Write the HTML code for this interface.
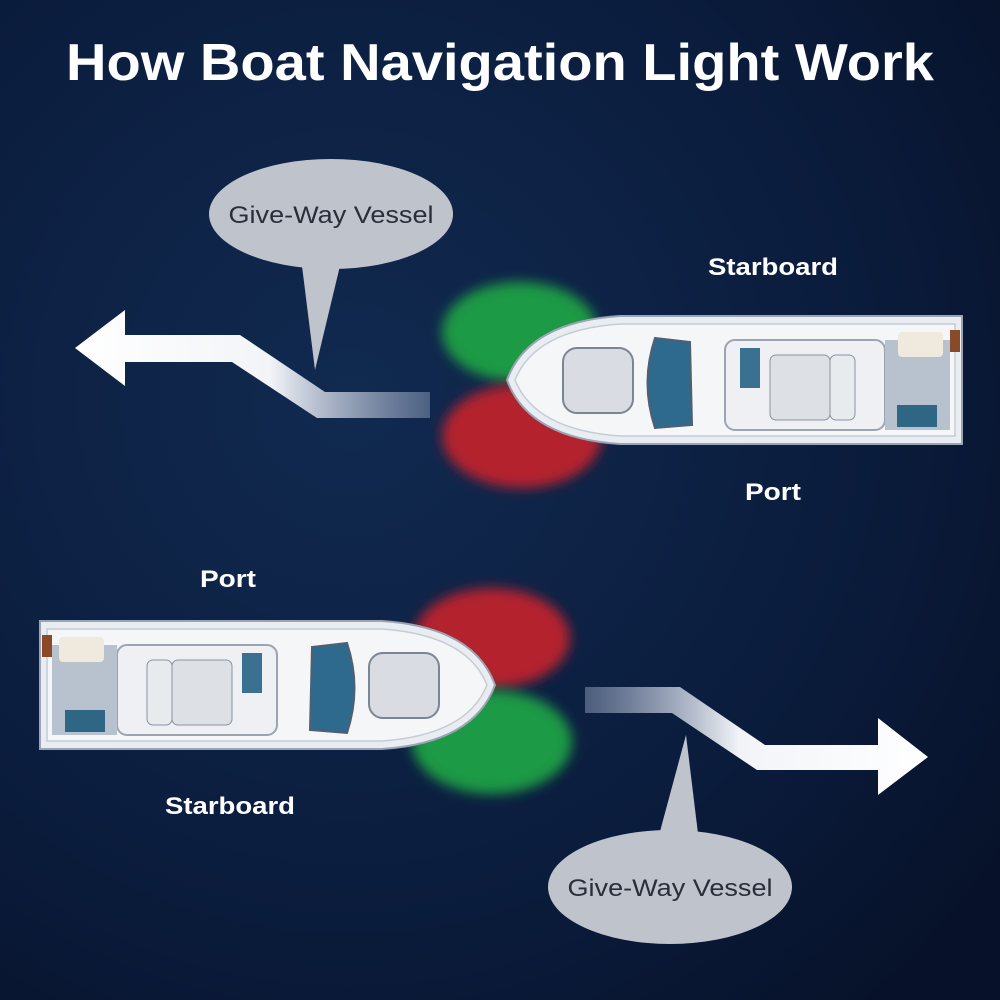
<!DOCTYPE html>
<html><head><style>
html,body{margin:0;padding:0;background:#0a1a36;}
svg{display:block}
</style></head><body>
<svg width="1000" height="1000" viewBox="0 0 1000 1000" xmlns="http://www.w3.org/2000/svg">
<defs>
<radialGradient id="bg" cx="0.35" cy="0.4" r="0.8">
<stop offset="0" stop-color="#112a50"/><stop offset="0.6" stop-color="#0b1d3e"/><stop offset="1" stop-color="#07122a"/>
</radialGradient>
<filter id="bl" x="-30%" y="-30%" width="160%" height="160%"><feGaussianBlur stdDeviation="6"/></filter>
<linearGradient id="arrL" x1="0" x2="1"><stop offset="0" stop-color="#fff"/><stop offset="0.55" stop-color="#f2f4f8"/><stop offset="1" stop-color="#8a9ab8" stop-opacity="0.5"/></linearGradient>
<linearGradient id="arrR" x1="1" x2="0"><stop offset="0" stop-color="#fff"/><stop offset="0.55" stop-color="#f2f4f8"/><stop offset="1" stop-color="#8a9ab8" stop-opacity="0.5"/></linearGradient>
<g id="boat">
<path d="M507 380 Q528 322 620 316 L962 316 L962 444 L620 444 Q528 438 507 380 Z" fill="#e9edf2" stroke="#9aa4b4" stroke-width="2"/>
<path d="M515 380 Q535 330 620 324 L955 324 L955 436 L620 436 Q535 430 515 380 Z" fill="#f4f6f8" stroke="#c4ccd6" stroke-width="1.5"/>
<rect x="563" y="348" width="70" height="65" rx="14" fill="#d9dde3" stroke="#7c8592" stroke-width="2"/>
<path d="M655 338 L690 342 L692 425 L655 428 Q640 383 655 338 Z" fill="#2e6a8e" stroke="#506070" stroke-width="2"/>
<rect x="725" y="340" width="160" height="90" rx="10" fill="#eef0f3" stroke="#9ba4b0" stroke-width="2"/>
<rect x="740" y="348" width="20" height="40" fill="#3a7090"/>
<rect x="770" y="355" width="60" height="65" rx="6" fill="#dde1e6" stroke="#8a93a0"/>
<rect x="830" y="355" width="25" height="65" rx="6" fill="#e8ebee" stroke="#8a93a0"/>
<rect x="885" y="340" width="65" height="90" fill="#b8c2ce"/>
<rect x="898" y="332" width="45" height="25" rx="4" fill="#efe9de"/>
<rect x="897" y="405" width="40" height="22" fill="#2f6684"/>
<rect x="950" y="330" width="10" height="22" fill="#8a4a2a"/>
</g>
</defs>
<rect width="1000" height="1000" fill="url(#bg)"/>
<text x="500" y="80" text-anchor="middle" font-family="Liberation Sans, sans-serif" font-weight="bold" font-size="52" fill="#fff" textLength="868" lengthAdjust="spacingAndGlyphs">How Boat Navigation Light Work</text>

<ellipse cx="520" cy="332" rx="78" ry="50" fill="#1f9a45" filter="url(#bl)"/>
<ellipse cx="522" cy="436" rx="80" ry="52" fill="#b4202f" filter="url(#bl)"/>
<ellipse cx="492" cy="638" rx="78" ry="50" fill="#b4202f" filter="url(#bl)"/>
<ellipse cx="492" cy="742" rx="80" ry="52" fill="#1f9a45" filter="url(#bl)"/>

<path d="M430 392 L325 392 L240 335 L125 335 L125 310 L75 348 L125 386 L125 362 L232 362 L317 418 L430 418 Z" fill="url(#arrL)"/>
<path d="M585 687 L680 687 L765 745 L878 745 L878 718 L928 757 L878 795 L878 770 L757 770 L672 713 L585 713 Z" fill="url(#arrR)"/>

<use href="#boat"/>
<use href="#boat" transform="translate(1002,305) scale(-1,1)"/>

<path d="M300 250 L315 370 L345 245 Z" fill="#bfc3cc"/>
<ellipse cx="331" cy="214" rx="122" ry="55" fill="#bfc3cc"/>
<text x="331" y="223" text-anchor="middle" font-family="Liberation Sans, sans-serif" font-size="24" fill="#2a2e38" textLength="205" lengthAdjust="spacingAndGlyphs">Give-Way Vessel</text>
<path d="M655 850 L686 735 L700 850 Z" fill="#bfc3cc"/>
<ellipse cx="670" cy="887" rx="122" ry="57" fill="#bfc3cc"/>
<text x="670" y="896" text-anchor="middle" font-family="Liberation Sans, sans-serif" font-size="24" fill="#2a2e38" textLength="205" lengthAdjust="spacingAndGlyphs">Give-Way Vessel</text>

<g font-family="Liberation Sans, sans-serif" font-weight="bold" font-size="24" fill="#fff" text-anchor="middle">
<text x="773" y="275" textLength="130" lengthAdjust="spacingAndGlyphs">Starboard</text>
<text x="773" y="500" textLength="56" lengthAdjust="spacingAndGlyphs">Port</text>
<text x="228" y="587" textLength="56" lengthAdjust="spacingAndGlyphs">Port</text>
<text x="230" y="814" textLength="130" lengthAdjust="spacingAndGlyphs">Starboard</text>
</g>
</svg>
</body></html>
